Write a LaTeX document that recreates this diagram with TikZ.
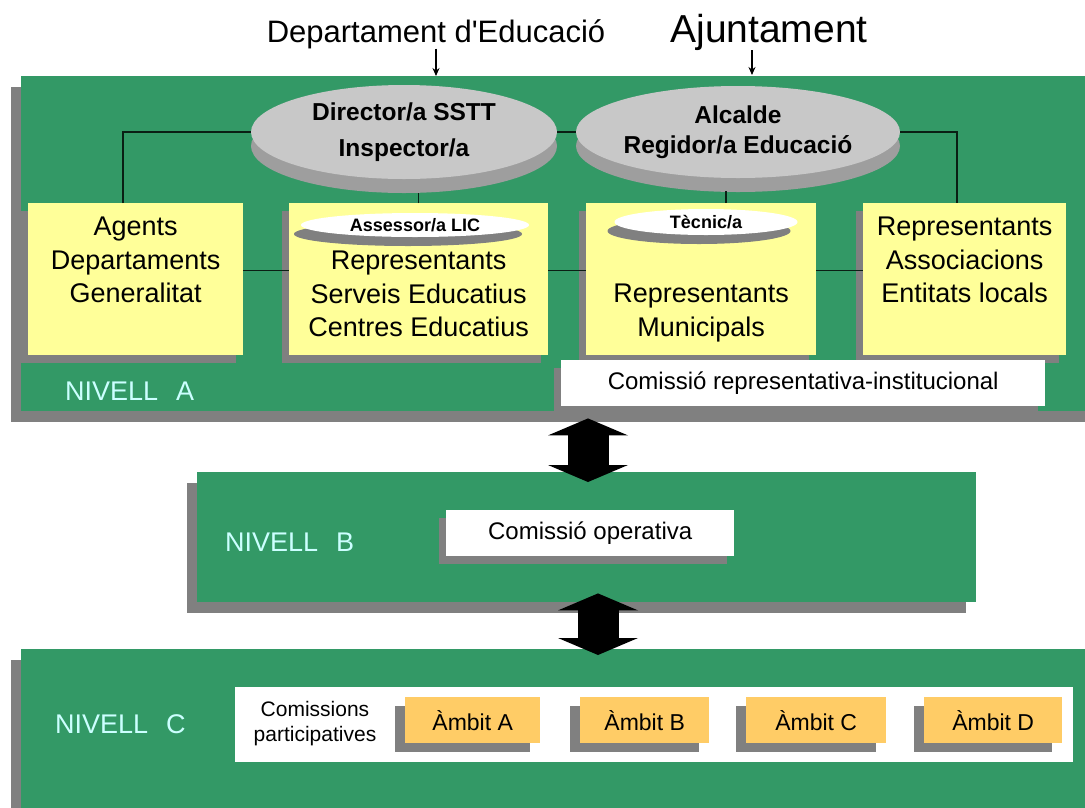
\documentclass[tikz,border=0pt]{standalone}
\usepackage{fontspec}
\setmainfont{Liberation Sans}[Ligatures=TeXOff]
\usetikzlibrary{positioning,shapes.geometric,shadows,arrows.meta}
\definecolor{panelgreen}{RGB}{51,153,102}
\definecolor{boxyellow}{RGB}{255,255,153}
\definecolor{ambitorange}{RGB}{255,204,102}
\definecolor{shadegray}{RGB}{128,128,128}
\definecolor{ovalgray}{RGB}{200,200,200}
\definecolor{ovaldark}{RGB}{158,158,158}
\definecolor{lvltext}{RGB}{204,255,255}

\begin{document}
\begin{tikzpicture}[x=1pt,y=-1pt,
  panel/.style={fill=panelgreen,inner sep=0pt,anchor=north west,
    drop shadow={shadow xshift=-10pt,shadow yshift=-11pt,fill=shadegray,opacity=1}},
  ybox/.style={fill=boxyellow,inner sep=0pt,anchor=north west,minimum height=152pt,
    drop shadow={shadow xshift=-7pt,shadow yshift=-8pt,fill=shadegray,opacity=1}},
  wbox/.style={fill=white,inner sep=0pt,anchor=north west,minimum height=46pt,
    font=\fontsize{24}{28}\selectfont,
    drop shadow={shadow xshift=-7pt,shadow yshift=-8pt,fill=shadegray,opacity=1}},
  ambit/.style={fill=ambitorange,inner sep=0pt,anchor=north west,minimum height=46pt,
    font=\fontsize{23}{27}\selectfont,
    drop shadow={shadow xshift=-10pt,shadow yshift=-9pt,fill=shadegray,opacity=1}},
  oval/.style={ellipse,fill=ovalgray,inner sep=0pt,align=center,
    drop shadow={shadow xshift=0pt,shadow yshift=-14pt,fill=ovaldark,opacity=1}},
  mini/.style={ellipse,fill=white,inner sep=0pt,
    font=\fontsize{18}{20}\selectfont\bfseries,
    drop shadow={shadow xshift=-7pt,shadow yshift=-9pt,fill=shadegray,opacity=1}},
  boxtext/.style={inner sep=0pt,align=center,font=\fontsize{27}{33.5}\selectfont},
  lvl/.style={inner sep=0pt,anchor=base west,text=lvltext,font=\fontsize{27}{30}\selectfont},
  link/.style={draw=black!80!panelgreen,line width=1.1pt},
  tip/.style={line width=1.1pt,-{Stealth[length=8pt,width=7pt]}},
  bigarrow/.style={line width=41pt,
    {Triangle[width=80pt,length=17pt,line width=0pt]}-{Triangle[width=80pt,length=17pt,line width=0pt]}}]
\useasboundingbox (0,0) rectangle (1085,807);

\node[panel,minimum width=1080pt,minimum height=335pt] (nivA) at (21,76) {};
\node[panel,minimum width=779pt,minimum height=130pt] (nivB) at (197,472) {};
\node[panel,minimum width=1080pt,minimum height=170pt] (nivC) at (21,649) {};

\node[anchor=base,inner sep=0pt,font=\fontsize{31}{36}\selectfont] (dept) at (436,42) {Departament d'Educació};
\node[anchor=base,inner sep=0pt,font=\fontsize{39}{44}\selectfont] (ajunt) at (769,42) {Ajuntament};
\coordinate (ajtip) at (752,75);
\draw[tip] (dept.south) -- (dept.south |- nivA.north);
\draw[tip] (ajunt.south -| ajtip) -- (ajtip);

\node[oval,minimum width=306pt,minimum height=94pt,font=\fontsize{24.5}{36}\selectfont\bfseries] (dir) at (404,132) {Director/a SSTT\\Inspector/a};
\node[oval,minimum width=324pt,minimum height=92pt,font=\fontsize{24.5}{30}\selectfont\bfseries] (alc) at (738,132) {Alcalde\\Regidor/a Educació};

\node[ybox,minimum width=215pt] (agents) at (28,203) {};
\node[ybox,minimum width=259pt] (serveis) at (289,203) {};
\node[ybox,minimum width=230pt] (munic) at (586,203) {};
\node[ybox,minimum width=203pt] (assoc) at (863,203) {};

\node[boxtext,below=14pt of agents.north] (agentstxt) {Agents\\Departaments\\Generalitat};
\node[boxtext,below=48pt of serveis.north] (servtxt) {Representants\\Serveis Educatius\\Centres Educatius};
\node[boxtext,below=81pt of munic.north] (munictxt) {Representants\\Municipals};
\node[boxtext,below=14pt of assoc.north] (assoctxt) {Representants\\Associacions\\Entitats locals};

\node[mini,minimum width=228pt,minimum height=24pt] (lic) at (415,225) {Assessor/a LIC};
\node[mini,minimum width=183pt,minimum height=26pt] (tecnic) at (706,222) {Tècnic/a};

\draw[link] ([xshift=95pt]agents.north west) |- (dir.west);
\draw[link] (dir.east) -- (alc.west);
\draw[link] (alc.east) -| ([xshift=94pt]assoc.north west);
\coordinate (dirfoot) at ([yshift=-14pt]dir.south);
\draw[link] (serveis.north) -- (serveis.north |- dirfoot);
\coordinate (alcfoot) at ([xshift=-12pt,yshift=-13pt]alc.south);
\draw[link] (alcfoot) -- (alcfoot |- munic.north);
\draw[link] ([yshift=9pt]agents.east) -- ([yshift=9pt]serveis.west);
\draw[link] ([yshift=9pt]serveis.east) -- ([yshift=9pt]munic.west);
\draw[link] ([yshift=9pt]munic.east) -- ([yshift=9pt]assoc.west);

\node[lvl] (lvlA) at (65,400) {NIVELL\hspace{18pt}A};
\node[wbox,minimum width=484pt] (crep) at (561,360) {Comissió representativa-institucional};

\node[lvl] (lvlB) at (225,551) {NIVELL\hspace{18pt}B};
\node[wbox,minimum width=288pt] (cop) at (446,510) {Comissió operativa};

\node[lvl] (lvlC) at (55,733) {NIVELL\hspace{18pt}C};
\node[fill=white,inner sep=0pt,anchor=north west,minimum width=838pt,minimum height=75pt] (band) at (235,687) {};
\node[inner sep=0pt,align=center,font=\fontsize{21}{25}\selectfont] (cpart) at (315,724) {Comissions\\participatives};
\node[ambit,minimum width=135pt] (ambA) at (405,697) {Àmbit A};
\node[ambit,minimum width=129pt] (ambB) at (580,697) {Àmbit B};
\node[ambit,minimum width=140pt] (ambC) at (746,697) {Àmbit C};
\node[ambit,minimum width=138pt] (ambD) at (924,697) {Àmbit D};

\coordinate (abx) at (588,0);
\coordinate (bcx) at (598,0);
\draw[bigarrow,shorten <=7pt,shorten >=-10pt] (nivA.south -| abx) -- (nivB.north -| abx);
\draw[bigarrow,shorten <=-9pt,shorten >=-6pt] (nivB.south -| bcx) -- (nivC.north -| bcx);
\end{tikzpicture}
\end{document}
